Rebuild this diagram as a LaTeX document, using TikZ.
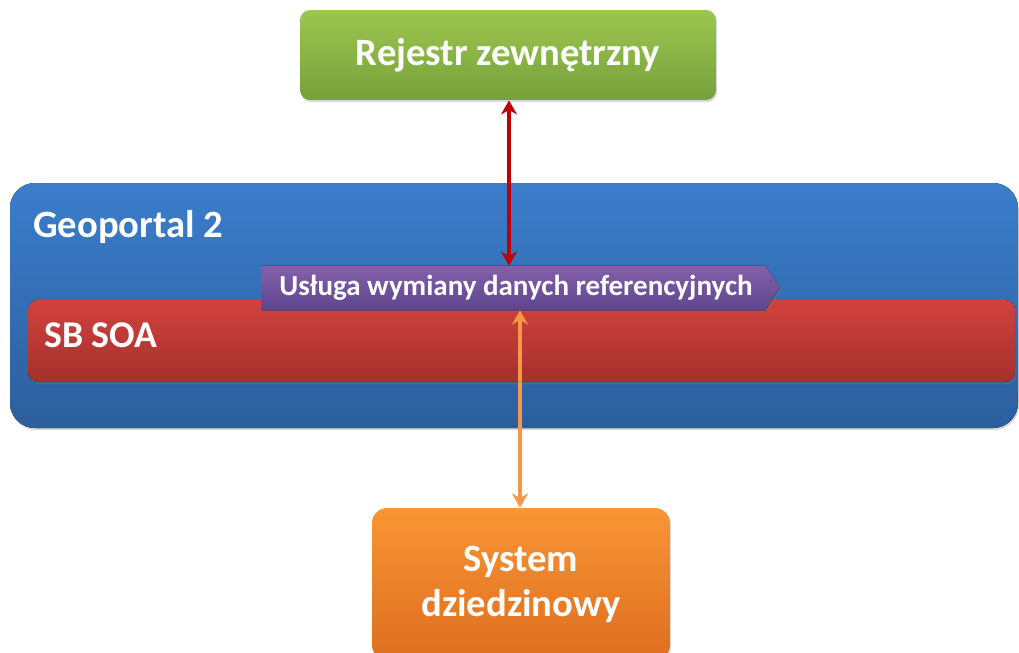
\documentclass[tikz,border=0pt]{standalone}
\usepackage{fontspec}
\setmainfont{Carlito}
\usetikzlibrary{shadows,arrows.meta}
\definecolor{greentop}{HTML}{9DC650}
\definecolor{greenbot}{HTML}{76A13A}
\definecolor{bluetop}{HTML}{3B7DCC}
\definecolor{bluebot}{HTML}{2C5E9C}
\definecolor{redtop}{HTML}{D2413D}
\definecolor{redbot}{HTML}{A3302C}
\definecolor{purptop}{HTML}{8460AA}
\definecolor{purpbot}{HTML}{5E458E}
\definecolor{orgtop}{HTML}{F99535}
\definecolor{orgbot}{HTML}{DE6E1E}
\definecolor{arrred}{HTML}{C00000}
\definecolor{arrorg}{HTML}{F79646}
\tikzset{
  shad/.style={drop shadow={opacity=0.3, shadow xshift=0.6pt, shadow yshift=-1.2pt}},
  boxtxt/.style={text=white, font=\bfseries},
  conn/.style={line width=2.3pt, {Stealth[length=8pt,width=9pt,inset=2.5pt]}-{Stealth[length=8pt,width=9pt,inset=2.5pt]}}
}
\begin{document}
\begin{tikzpicture}[x=0.02cm,y=-0.02cm]
\clip (0,0) rectangle (1019,653);
\useasboundingbox (0,0) rectangle (1019,653);
% Geoportal 2
\fill[shad, rounded corners=0.5cm, top color=bluetop, bottom color=bluebot] (10,183) rectangle (1018,428);
\node[boxtxt, anchor=west, inner sep=0pt, font=\bfseries\fontsize{22}{26}\selectfont] (geo) at (33,227) {Geoportal 2};
% SB SOA
\fill[shad, rounded corners=0.2cm, top color=redtop, bottom color=redbot] (28,300) rectangle (1015,382);
\node[boxtxt, anchor=west, inner sep=0pt, font=\bfseries\fontsize{21.5}{26}\selectfont] (soa) at (44,335) {SB SOA};
% usluga
\node[boxtxt, minimum width=10.06cm, minimum height=0.88cm, inner sep=0pt] (usl) at (513.5,288) {};
\fill[shad, top color=purptop, bottom color=purpbot] (usl.north west) -- (usl.north east) -- ++(15,22) -- (usl.south east) -- (usl.south west) -- cycle;
\node[boxtxt, font=\bfseries\fontsize{16.5}{20}\selectfont] at (516,288) {Usługa wymiany danych referencyjnych};
% rejestr
\node[boxtxt, shad, rounded corners=0.2cm, top color=greentop, bottom color=greenbot, minimum width=8.32cm, minimum height=1.8cm, font=\bfseries\fontsize{22}{26}\selectfont] (rej) at (508,55) {Rejestr zewnętrzny};
% system
\node[boxtxt, shad, rounded corners=0.3cm, top color=orgtop, bottom color=orgbot, minimum width=5.96cm, minimum height=3.04cm, align=center, font=\bfseries\fontsize{22}{25.5}\selectfont] (sys) at (521,584) {System\\dziedzinowy};
\draw[conn, arrred] (rej.south -| 509,0) -- (usl.north -| 509,0);
\draw[conn, arrorg] (usl.south -| 520,0) -- (sys.north -| 520,0);
\end{tikzpicture}
\end{document}
